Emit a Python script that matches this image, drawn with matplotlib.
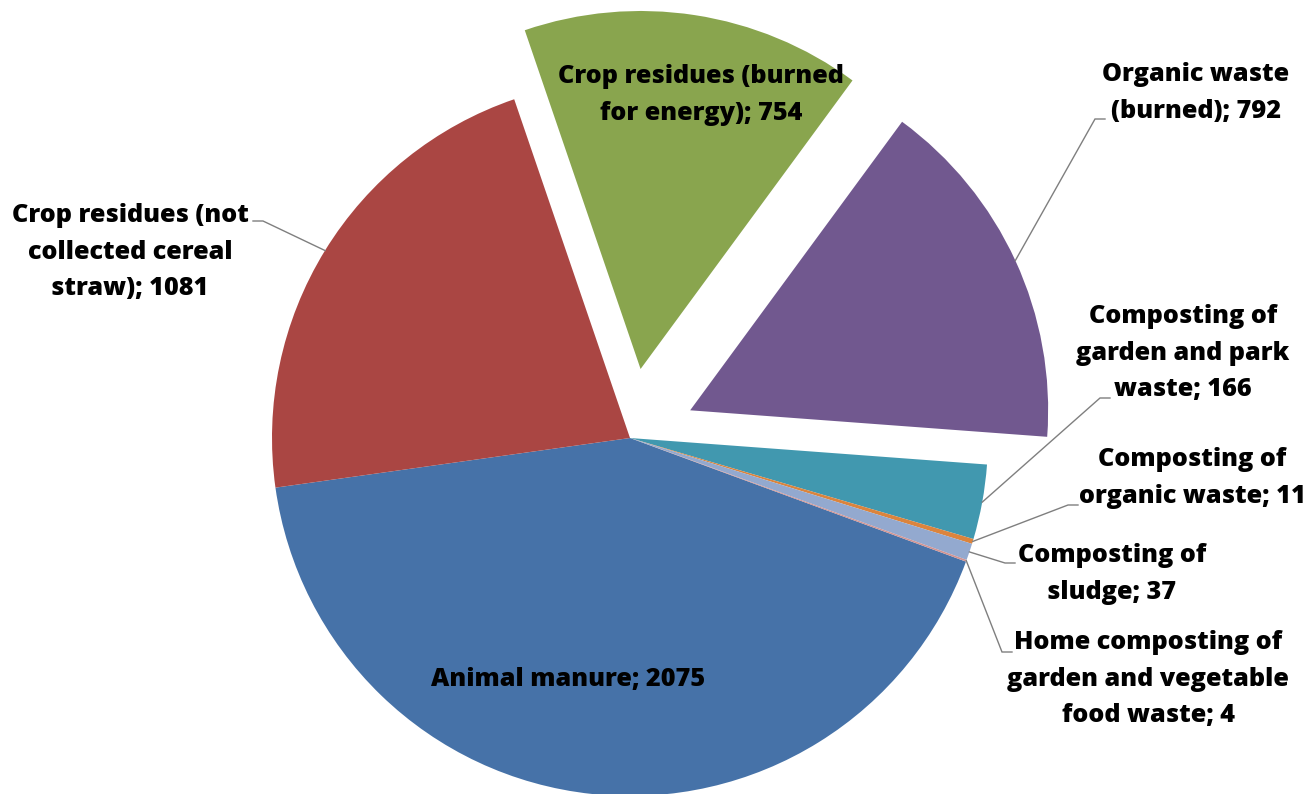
"""Biomass sources pie chart with exploded slices and leader-line labels"""
import numpy as np
import matplotlib
matplotlib.use("Agg")
import matplotlib.pyplot as plt

NAMES = [
    "Animal manure",
    "Crop residues (not\ncollected cereal\nstraw)",
    "Crop residues (burned\nfor energy)",
    "Organic waste\n(burned)",
    "Composting of\ngarden and park\nwaste",
    "Composting of\norganic waste",
    "Composting of\nsludge",
    "Home composting of\ngarden and vegetable\nfood waste",
]
VALUES = [2075, 1081, 754, 792, 166, 11, 37, 4]
COLORS = ["#4672A8", "#AA4643", "#89A54E", "#71588F",
          "#4198AF", "#DB843D", "#93A9CF", "#D19392"]
EXPLODE = [0, 0, 0.195, 0.185, 0, 0, 0, 0]

plt.rcParams.update({"font.family": ["Open Sans", "DejaVu Sans"], "font.weight": "bold"})

W, H = 1308, 794
CX, CY, R = 630, 438, 358   # pie centre / radius in pixels


def px(x, y):
    # pixel position (from top-left) -> data coords of the pie axes
    return (x - CX) / R, (CY - y) / R


fig = plt.figure(figsize=(W / 100, H / 100), dpi=100)
ax = fig.add_axes([0, 0, 1, 1])
wedges, _ = ax.pie(VALUES, colors=COLORS, explode=EXPLODE, startangle=-20.2,
                   counterclock=False, radius=1.0,
                   wedgeprops=dict(linewidth=0))
ax.set_xlim(-CX / R, (W - CX) / R)
ax.set_ylim(-(H - CY) / R, CY / R)
ax.axis("off")

labels = [f"{n}; {v}" for n, v in zip(NAMES, VALUES)]
FS = 18.2
LS = 1.58
FW = 800

# labels inside slices
for i, (x, y) in {0: (568, 680), 2: (701, 95)}.items():
    ax.text(*px(x, y), labels[i], ha="center", va="center", fontsize=FS,
            linespacing=LS, fontweight=FW)

# outside labels: text centre, elbow end (near text), elbow start
OUTSIDE = {
    1: ((130, 252), (263, 221), (253, 221)),
    3: ((1196, 93), (1095, 119), (1105, 119)),
    4: ((1183, 353), (1100, 398), (1110, 398)),
    5: ((1192, 478), (1068, 505), (1078, 505)),
    6: ((1112, 574), (1005, 563), (1015, 563)),
    7: ((1148, 679), (1002, 652), (1012, 652)),
}
for i, (tc, elbow, tail) in OUTSIDE.items():
    w = wedges[i]
    mid = np.deg2rad((w.theta1 + w.theta2) / 2)
    ax_, ay_ = w.center[0] + w.r * np.cos(mid), w.center[1] + w.r * np.sin(mid)
    ex, ey = px(*elbow)
    tx, ty = px(*tail)
    ax.plot([ax_, ex, tx], [ay_, ey, ty], color="#7f7f7f", lw=1.0,
            solid_joinstyle="miter")
    ax.text(*px(*tc), labels[i], ha="center", va="center", fontsize=FS,
            linespacing=LS, fontweight=FW)

fig.savefig("out.png", dpi=100)
